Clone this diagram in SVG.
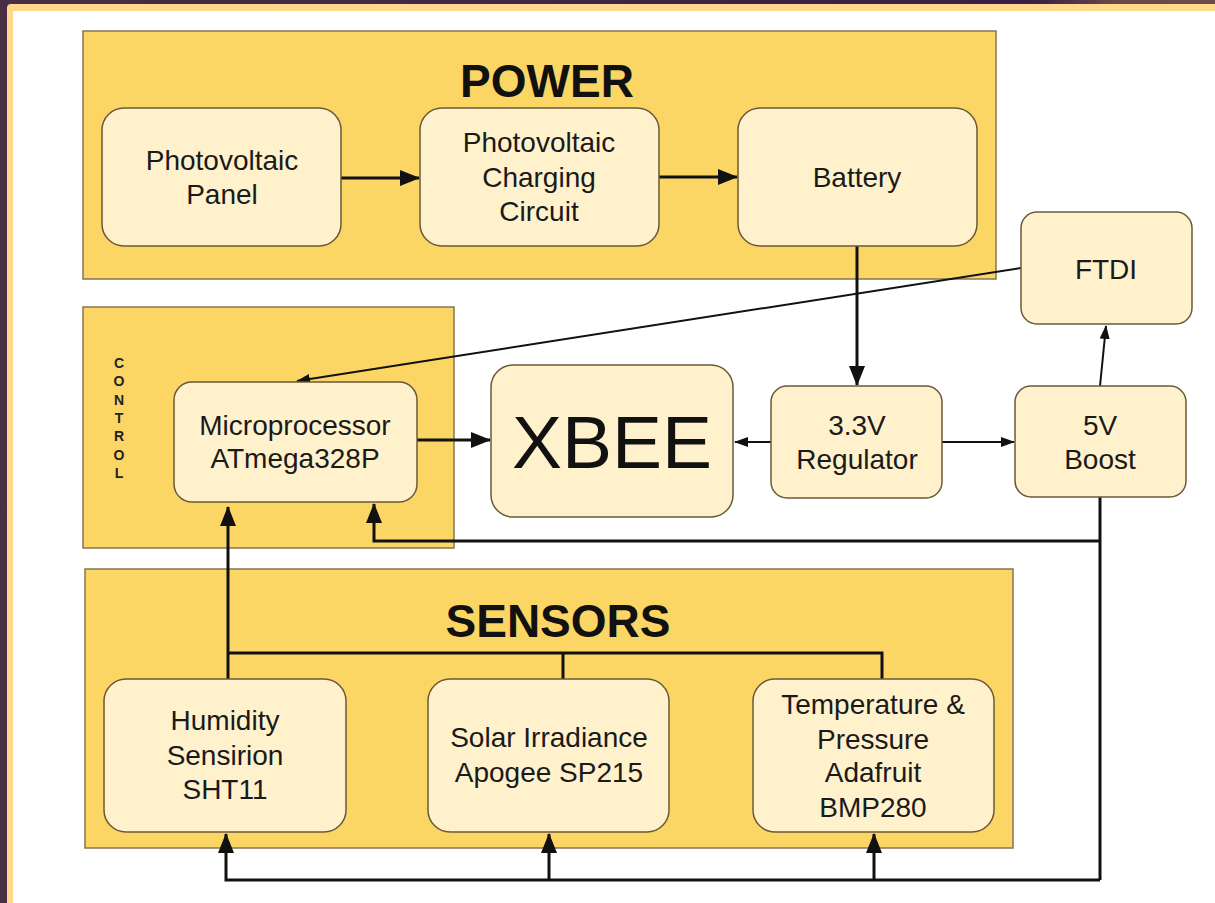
<svg xmlns="http://www.w3.org/2000/svg" width="1215" height="903" viewBox="0 0 1215 903">
<style>
.container{fill:#FCD665;stroke:#857654;stroke-width:1.5}
.box{fill:#FEF1CB;stroke:#6A5A38;stroke-width:1.5}
.lbl{font-family:"Liberation Sans",Arial,sans-serif;font-size:28px;fill:#1a1a1a;text-anchor:middle}
.title{font-family:"Liberation Sans",Arial,sans-serif;font-size:46px;font-weight:bold;fill:#111;text-anchor:middle}
.vert{font-family:"Liberation Sans",Arial,sans-serif;font-size:14px;font-weight:bold;fill:#222;text-anchor:middle}
.thick{fill:none;stroke:#111;stroke-width:3}
.thin{fill:none;stroke:#111;stroke-width:2}
</style>
<defs>
<linearGradient id="bg" x1="0" y1="0" x2="1" y2="0">
<stop offset="0" stop-color="#4A2E44"/>
<stop offset="0.85" stop-color="#3A1E45"/>
<stop offset="0.92" stop-color="#6A4A47"/>
<stop offset="1" stop-color="#6B4C46"/>
</linearGradient>
<marker id="ab" markerUnits="userSpaceOnUse" markerWidth="20" markerHeight="16" refX="19" refY="8" orient="auto">
<path d="M0,0 L20,8 L0,16 Z" fill="#111"/>
</marker>
<marker id="as" markerUnits="userSpaceOnUse" markerWidth="14" markerHeight="10" refX="13" refY="5" orient="auto">
<path d="M0,0 L14,5 L0,10 Z" fill="#111"/>
</marker>
</defs>
<rect width="1215" height="903" fill="url(#bg)"/>
<rect x="7" y="4" width="1230" height="920" rx="4" fill="#FED98C"/>
<rect x="13" y="11" width="1220" height="910" fill="#FFFFFF"/>

<g id="power">
<rect class="container" x="83" y="31" width="913" height="248"/>
<text class="title" x="547" y="97">POWER</text>
</g>
<g id="control">
<rect class="container" x="83" y="307" width="371" height="241"/>
<text class="vert" x="119" y="368">C</text>
<text class="vert" x="119" y="386">O</text>
<text class="vert" x="119" y="405">N</text>
<text class="vert" x="119" y="423">T</text>
<text class="vert" x="119" y="441">R</text>
<text class="vert" x="119" y="460">O</text>
<text class="vert" x="119" y="478">L</text>
</g>
<g id="sensors">
<rect class="container" x="85" y="569" width="928" height="279"/>
<text class="title" x="558" y="637">SENSORS</text>
</g>

<g id="connectors">
<line class="thick" x1="341" y1="178" x2="419" y2="178" marker-end="url(#ab)"/>
<line class="thick" x1="659" y1="177" x2="737" y2="177" marker-end="url(#ab)"/>
<line class="thick" x1="857" y1="246" x2="857" y2="385" marker-end="url(#ab)"/>
<line class="thick" x1="417" y1="440" x2="490" y2="440" marker-end="url(#ab)"/>
<line class="thin" x1="1021" y1="268" x2="297" y2="381" marker-end="url(#as)"/>
<line class="thin" x1="771" y1="442" x2="735" y2="442" marker-end="url(#as)"/>
<line class="thin" x1="942" y1="442" x2="1014" y2="442" marker-end="url(#as)"/>
<line class="thin" x1="1100" y1="386" x2="1106" y2="326" marker-end="url(#as)"/>
<polyline class="thick" points="1100,497 1100,880"/>
<polyline class="thick" points="1100,541 374,541 374,504" marker-end="url(#ab)"/>
<polyline class="thick" points="1100,880 226,880 226,834" marker-end="url(#ab)"/>
<line class="thick" x1="549" y1="880" x2="549" y2="834" marker-end="url(#ab)"/>
<line class="thick" x1="874" y1="880" x2="874" y2="834" marker-end="url(#ab)"/>
<line class="thick" x1="228" y1="679" x2="228" y2="507" marker-end="url(#ab)"/>
<polyline class="thick" points="228,653 882,653 882,679"/>
<line class="thick" x1="563" y1="653" x2="563" y2="679"/>
</g>

<g id="pv-panel">
<rect class="box" x="102" y="108" width="239" height="138" rx="22"/>
<text class="lbl" x="222" y="170">Photovoltaic</text>
<text class="lbl" x="222" y="204">Panel</text>
</g>
<g id="pv-charging">
<rect class="box" x="420" y="108" width="239" height="138" rx="22"/>
<text class="lbl" x="539" y="152">Photovoltaic</text>
<text class="lbl" x="539" y="187">Charging</text>
<text class="lbl" x="539" y="221">Circuit</text>
</g>
<g id="battery">
<rect class="box" x="738" y="108" width="239" height="138" rx="22"/>
<text class="lbl" x="857" y="187">Battery</text>
</g>
<g id="ftdi">
<rect class="box" x="1021" y="212" width="171" height="112" rx="16"/>
<text class="lbl" x="1106" y="279">FTDI</text>
</g>
<g id="microprocessor">
<rect class="box" x="174" y="382" width="243" height="120" rx="18"/>
<text class="lbl" x="295" y="435">Microprocessor</text>
<text class="lbl" x="295" y="468">ATmega328P</text>
</g>
<g id="xbee">
<rect class="box" x="491" y="365" width="242" height="152" rx="22"/>
<text class="lbl" x="612" y="468" style="font-size:75px;fill:#111">XBEE</text>
</g>
<g id="regulator">
<rect class="box" x="771" y="386" width="171" height="112" rx="16"/>
<text class="lbl" x="857" y="435">3.3V</text>
<text class="lbl" x="857" y="469">Regulator</text>
</g>
<g id="boost">
<rect class="box" x="1015" y="386" width="171" height="111" rx="16"/>
<text class="lbl" x="1100" y="435">5V</text>
<text class="lbl" x="1100" y="469">Boost</text>
</g>
<g id="humidity">
<rect class="box" x="104" y="679" width="242" height="153" rx="22"/>
<text class="lbl" x="225" y="730">Humidity</text>
<text class="lbl" x="225" y="765">Sensirion</text>
<text class="lbl" x="225" y="799">SHT11</text>
</g>
<g id="solar">
<rect class="box" x="428" y="679" width="241" height="153" rx="22"/>
<text class="lbl" x="549" y="747">Solar Irradiance</text>
<text class="lbl" x="549" y="782">Apogee SP215</text>
</g>
<g id="temperature">
<rect class="box" x="753" y="679" width="241" height="153" rx="22"/>
<text class="lbl" x="873" y="714">Temperature &amp;</text>
<text class="lbl" x="873" y="749">Pressure</text>
<text class="lbl" x="873" y="782">Adafruit</text>
<text class="lbl" x="873" y="817">BMP280</text>
</g>
</svg>
